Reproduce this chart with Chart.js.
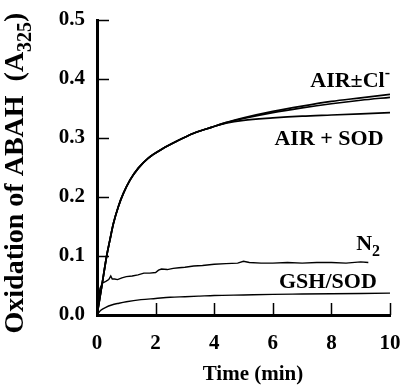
<!DOCTYPE html>
<html>
<head>
<meta charset="utf-8">
<script src="https://cdn.jsdelivr.net/npm/chart.js@4/dist/chart.umd.min.js"></script>
<style>
  html, body { margin: 0; padding: 0; background: #fff; }
  canvas { display: block; }
</style>
</head>
<body>
<canvas id="chart" width="402" height="389"></canvas>
<script>
// time in minutes, absorbance at 325 nm
const airTime = [0, 0.16, 0.33, 0.44, 0.56, 0.73, 0.9, 1.13, 1.41, 1.75, 2.21, 2.7, 3.3, 3.9, 4.4, 5, 6, 7, 8, 9, 10];
const airValues = [0, 0.048, 0.1, 0.127, 0.155, 0.184, 0.206, 0.229, 0.249, 0.266, 0.281, 0.294, 0.308, 0.318, 0.326, 0.334, 0.345, 0.354, 0.362, 0.368, 0.374];
const airClValues = [0, 0.048, 0.1, 0.127, 0.155, 0.184, 0.206, 0.229, 0.249, 0.266, 0.281, 0.294, 0.308, 0.318, 0.326, 0.333, 0.343, 0.351, 0.358, 0.364, 0.369];
const airSodValues = [0, 0.048, 0.1, 0.127, 0.155, 0.184, 0.206, 0.229, 0.249, 0.266, 0.281, 0.294, 0.308, 0.318, 0.325, 0.330, 0.334, 0.337, 0.339, 0.341, 0.343];

const n2Time = [0, 0.05, 0.1, 0.18, 0.3, 0.4, 0.47, 0.52, 0.6, 0.7, 0.85, 1.0, 1.2, 1.4, 1.6, 1.8, 2.0, 2.1, 2.2, 2.4, 2.6, 2.8, 3.0, 3.3, 3.6, 4.0, 4.4, 4.8, 5.0, 5.2, 5.6, 6.0, 6.5, 7.0, 7.5, 8.0, 8.5, 9.0, 9.26];
const n2Values = [0, 0.025, 0.045, 0.054, 0.057, 0.06, 0.066, 0.061, 0.061, 0.06, 0.063, 0.065, 0.066, 0.068, 0.071, 0.071, 0.072, 0.076, 0.078, 0.077, 0.079, 0.08, 0.081, 0.083, 0.084, 0.086, 0.087, 0.088, 0.091, 0.089, 0.088, 0.088, 0.089, 0.088, 0.089, 0.089, 0.088, 0.090, 0.089];

const gshTime = [0, 0.13, 0.3, 0.5, 0.75, 1.0, 1.5, 2.0, 2.5, 3.0, 3.5, 4, 5, 6, 7, 8, 9, 10];
const gshValues = [0, 0.008, 0.013, 0.017, 0.020, 0.0225, 0.026, 0.028, 0.030, 0.031, 0.032, 0.033, 0.034, 0.035, 0.0355, 0.036, 0.0365, 0.037];

const xTicks = [0, 2, 4, 6, 8, 10];
const yTicks = [0, 0.1, 0.2, 0.3, 0.4, 0.5];

// curve labels: text parts and anchor (right edge, baseline) in data units
const curveLabels = [
  { parts: [['AIR±Cl', 0], ['-', 1]], t: 10, v: 0.386 },
  { parts: [['AIR + SOD', 0]], t: 9.78, v: 0.288 },
  { parts: [['N', 0], ['2', -1]], t: 9.66, v: 0.111 },
  { parts: [['GSH/SOD', 0]], t: 9.55, v: 0.045 }
];

const serif = "'Liberation Serif', 'Times New Roman', serif";
const pairs = (xs, ys) => xs.map((x, i) => ({ x, y: ys[i] }));

function drawParts(ctx, parts, x, y, size, align) {
  const small = Math.round(size * 0.72);
  const widths = parts.map(([txt, shift]) => {
    ctx.font = `bold ${shift ? small : size}px ${serif}`;
    return ctx.measureText(txt).width;
  });
  const total = widths.reduce((a, b) => a + b, 0);
  let cx = align === 'right' ? x - total : align === 'center' ? x - total / 2 : x;
  ctx.textAlign = 'left';
  ctx.textBaseline = 'alphabetic';
  parts.forEach(([txt, shift], i) => {
    ctx.font = `bold ${shift ? small : size}px ${serif}`;
    const dy = shift > 0 ? -size * 0.42 : shift < 0 ? size * 0.28 : 0;
    ctx.fillText(txt, cx, y + dy);
    cx += widths[i];
  });
}

const decor = {
  id: 'decor',
  afterDraw(chart) {
    const { ctx, scales: { x, y } } = chart;
    ctx.save();
    ctx.strokeStyle = '#000';
    ctx.fillStyle = '#000';
    ctx.lineWidth = 1.5;
    // inward tick marks
    ctx.beginPath();
    yTicks.forEach(v => {
      if (v === 0) return;
      const py = Math.round(y.getPixelForValue(v)) + 0.5;
      ctx.moveTo(x.left, py);
      ctx.lineTo(x.left + 12, py);
    });
    xTicks.forEach(t => {
      if (t === 0) return;
      const px = Math.round(x.getPixelForValue(t)) + 0.5;
      ctx.moveTo(px, y.bottom);
      ctx.lineTo(px, y.bottom - 12);
    });
    ctx.stroke();

    curveLabels.forEach(l => {
      drawParts(ctx, l.parts, x.getPixelForValue(l.t), y.getPixelForValue(l.v), 22, 'right');
    });

    // axis titles
    drawParts(ctx, [['Time (min)', 0]], 253, 380, 21, 'center');
    ctx.translate(23, 173);
    ctx.rotate(-Math.PI / 2);
    drawParts(ctx, [['Oxidation of ABAH  (A', 0], ['325', -1], [')', 0]], 0, 0, 28, 'center');
    ctx.restore();
  }
};

const line = (data, width) => ({
  data,
  borderColor: '#000',
  borderWidth: width,
  pointRadius: 0,
  fill: false,
  cubicInterpolationMode: 'monotone'
});

new Chart(document.getElementById('chart'), {
  type: 'line',
  data: {
    datasets: [
      line(pairs(airTime, airValues), 1.7),
      line(pairs(airTime, airClValues), 1.7),
      line(pairs(airTime, airSodValues), 1.7),
      Object.assign(line(pairs(n2Time, n2Values), 1.4), { cubicInterpolationMode: 'default', tension: 0 }),
      line(pairs(gshTime, gshValues), 1.4)
    ]
  },
  options: {
    responsive: false,
    animation: false,
    devicePixelRatio: 1,
    layout: { padding: { top: 20, right: 12, left: 0, bottom: 0 } },
    plugins: { legend: { display: false }, tooltip: { enabled: false } },
    scales: {
      x: {
        type: 'linear',
        min: 0,
        max: 10,
        afterBuildTicks: s => { s.ticks = xTicks.map(value => ({ value })); },
        afterFit: s => { s.height = 74; s.paddingLeft = 0; s.paddingRight = 0; },
        grid: { display: false, drawTicks: false },
        border: { display: true, color: '#000', width: 3 },
        ticks: { color: '#000', padding: 16, font: { family: serif, size: 21, weight: 'bold' } }
      },
      y: {
        min: 0,
        max: 0.5,
        afterBuildTicks: s => { s.ticks = yTicks.map(value => ({ value })); },
        afterFit: s => { s.width = 97; s.paddingTop = 0; s.paddingBottom = 0; },
        grid: { display: false, drawTicks: false },
        border: { display: true, color: '#000', width: 3 },
        ticks: {
          color: '#000',
          padding: 12,
          font: { family: serif, size: 21, weight: 'bold' },
          callback: v => v.toFixed(1)
        }
      }
    }
  },
  plugins: [decor]
});
</script>
</body>
</html>
